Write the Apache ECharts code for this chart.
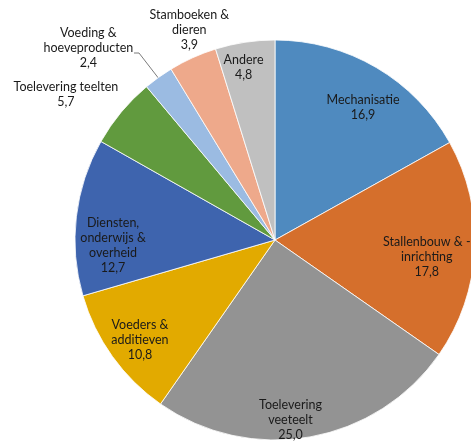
<!DOCTYPE html>
<html>
<head>
<meta charset="utf-8">
<script src="https://cdn.jsdelivr.net/npm/echarts@6/dist/echarts.min.js"></script>
<style>
  html, body { margin: 0; padding: 0; background: #fff; }
  #chart { width: 471px; height: 445px; }
</style>
</head>
<body>
<div id="chart"></div>
<script>
// ---- data ----
const categories = [
  'Mechanisatie',
  'Stallenbouw & -\ninrichting',
  'Toelevering\nveeteelt',
  'Voeders &\nadditieven',
  'Diensten,\nonderwijs &\noverheid',
  'Toelevering teelten',
  'Voeding &\nhoeveproducten',
  'Stamboeken &\ndieren',
  'Andere'
];
const values = [16.9, 17.8, 25.0, 10.8, 12.7, 5.7, 2.4, 3.9, 4.8];

// ---- styles ----
const colors = ['#4f8abf', '#d56f2c', '#939393', '#e2aa00', '#3e64ae', '#619a3e', '#9bbbe2', '#eea98b', '#c0c0c0'];
// label placement: [radius factor, dx, dy]
const labelPlace = [
  [0.80, 7, 5],
  [0.80, -8, 9],
  [0.90, -16, 3],
  [0.80, -5, 7],
  [0.80, -3, 24],
  [1.25, -17, 14],
  [1.25, -41, 11],
  [1.15, 9, 0],
  [0.88, -5, 1]
];
const CX = 275, CY = 240, R = 200;

const total = values.reduce((a, b) => a + b, 0);
const cum = [];
values.reduce((acc, v, i) => { cum[i] = acc; return acc + v; }, 0);

function midAngle(i) { return (cum[i] + values[i] / 2) / total * 2 * Math.PI; }

const chart = echarts.init(document.getElementById('chart'), null, { renderer: 'canvas' });
chart.setOption({
  animation: false,
  backgroundColor: '#ffffff',
  series: [{
    type: 'pie',
    center: [CX, CY],
    radius: [0, R],
    startAngle: 90,
    clockwise: true,
    avoidLabelOverlap: false,
    silent: true,
    itemStyle: { borderColor: '#ffffff', borderWidth: 0.8 },
    label: {
      show: true,
      position: 'inside',
      formatter: p => p.name + '\n' + p.value.toFixed(1).replace('.', ','),
      fontFamily: 'Lato',
      fontSize: 12.5,
      lineHeight: 15,
      color: '#1a1a1a',
      align: 'center'
    },
    labelLine: { show: false },
    labelLayout: function (p) {
      const i = p.dataIndex;
      const a = midAngle(i);
      const cfg = labelPlace[i];
      const x = CX + cfg[0] * R * Math.sin(a) + cfg[1];
      const y = CY - cfg[0] * R * Math.cos(a) + cfg[2];
      const res = { x: x, y: y, align: 'center', verticalAlign: 'middle' };
      if (i === 6) {
        const ex = CX + R * Math.sin(a), ey = CY - R * Math.cos(a);
        res.labelLinePoints = [[ex + 1, ey + 2], [139, 53], [134, 53]];
      }
      return res;
    },
    data: categories.map((c, i) => {
      const d = { name: c, value: values[i], itemStyle: { color: colors[i] } };
      if (i === 6) {
        d.label = { position: 'outside' };
        d.labelLine = { show: true, lineStyle: { color: '#595959', width: 0.8 } };
      }
      return d;
    })
  }]
});
</script>
</body>
</html>
